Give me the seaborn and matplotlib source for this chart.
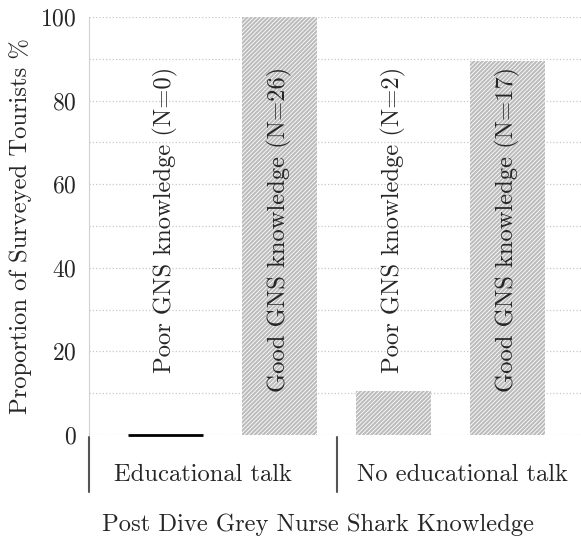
import pandas as pd
import matplotlib
matplotlib.use("Agg")
import matplotlib.pyplot as plt
import seaborn as sns

# ==========================================
# Data
# ==========================================

groups = ["Educational talk", "Educational talk", "No educational talk", "No educational talk"]
knowledge = ["Poor", "Good", "Poor", "Good"]
counts = [0, 26, 2, 17]
percent = [0.0, 100.0, 10.5, 89.5]
bar_labels = [
    "Poor GNS knowledge (N=0)",
    "Good GNS knowledge (N=26)",
    "Poor GNS knowledge (N=2)",
    "Good GNS knowledge (N=17)",
]
group_names = ["Educational talk", "No educational talk"]
y_ticks = [0, 20, 40, 60, 80, 100]

df = pd.DataFrame({
    "bar": bar_labels,
    "group": groups,
    "knowledge": knowledge,
    "N": counts,
    "percent": percent,
})

# ==========================================
# Style
# ==========================================

sns.set_style("white")
plt.rcParams["font.family"] = ["cmr10", "DejaVu Serif"]
plt.rcParams["axes.formatter.use_mathtext"] = True
plt.rcParams["hatch.color"] = "#888888"
plt.rcParams["hatch.linewidth"] = 0.6

FS = 17.7

fig = plt.figure(figsize=(5.81, 5.42), dpi=100)
ax = fig.add_axes([89 / 581, 107 / 542, 495 / 581, 418 / 542])

# ==========================================
# Bars
# ==========================================

sns.barplot(
    data=df, x="bar", y="percent",
    color="#bcbcbc", width=0.66, saturation=1,
    linewidth=0, ax=ax, zorder=2
)

for patch, val in zip(ax.patches, df["percent"]):
    patch.set_hatch("////////")
    if val == 0:
        patch.set_edgecolor("black")
        patch.set_linewidth(2)
        patch.set_clip_on(False)

for i, txt in enumerate(df["bar"]):
    ax.text(i, 88, txt, rotation=90, ha="center", va="top", fontsize=FS, zorder=3)

# ==========================================
# Axes
# ==========================================

ax.set_xlim(-0.67, 3.67)
ax.set_ylim(0, 100)
ax.set_yticks(y_ticks)
ax.set_yticks(range(0, 101, 10), minor=True)
ax.tick_params(axis="y", length=0, labelsize=17, pad=9)
ax.tick_params(axis="x", length=0, labelbottom=False)
ax.grid(axis="y", which="both", color="#c8c8c8", linestyle=":", linewidth=0.9, zorder=0)
ax.set_axisbelow(True)

for side in ["top", "right", "bottom"]:
    ax.spines[side].set_visible(False)
ax.spines["left"].set_color("#d0d0d0")
ax.spines["left"].set_linewidth(0.8)

# group separators and labels
for xs in [-0.67, 1.5]:
    ax.plot([xs, xs], [-0.5, -13.6], color="#555555", lw=1.5, clip_on=False)
ax.text(0.33, -9.6, group_names[0], ha="center", va="center", fontsize=FS)
ax.text(2.6, -9.6, group_names[1], ha="center", va="center", fontsize=FS)

ax.set_xlabel("Post Dive Grey Nurse Shark Knowledge", fontsize=FS, va="center")
ax.xaxis.set_label_coords(0.463, -0.215)
ax.set_ylabel("Proportion of Surveyed Tourists %", fontsize=FS, va="center")
ax.yaxis.set_label_coords(-0.139, 0.5)

fig.savefig("out.png", dpi=100)
